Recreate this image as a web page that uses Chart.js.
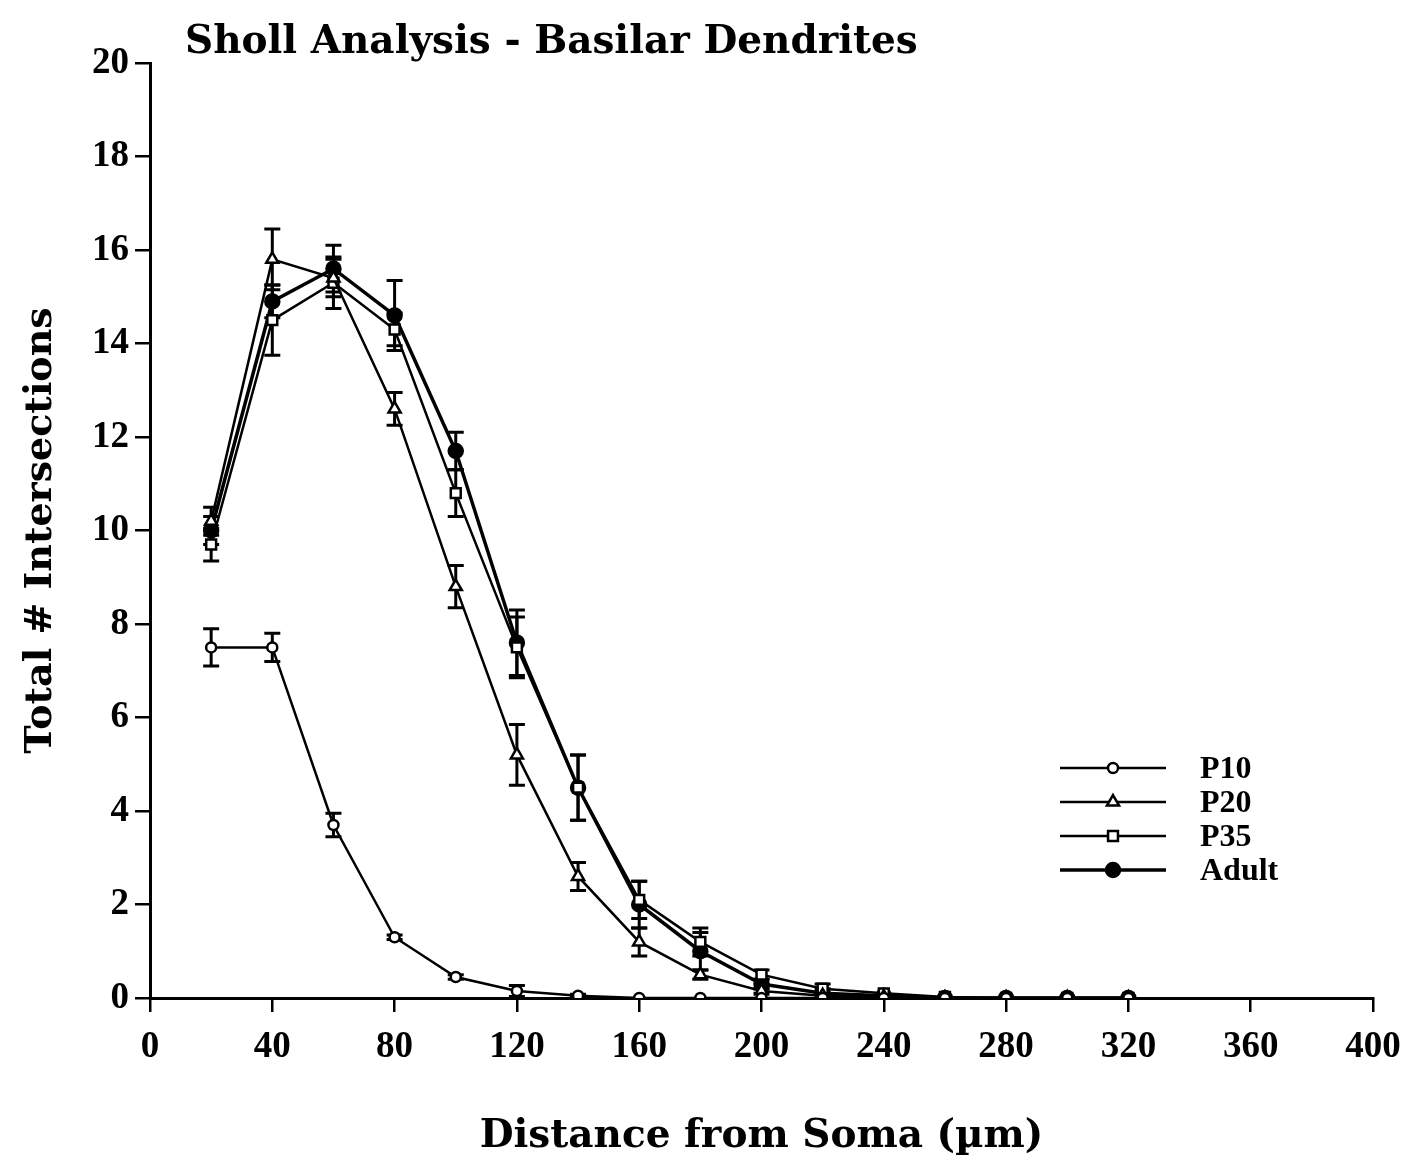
<!DOCTYPE html>
<html>
<head>
<meta charset="utf-8">
<title>Sholl Analysis - Basilar Dendrites</title>
<script src="https://cdn.jsdelivr.net/npm/chart.js@4.4.1/dist/chart.umd.min.js"></script>
<style>
  html, body { margin: 0; padding: 0; background: #fff; }
  #wrap { width: 1408px; height: 1160px; }
</style>
</head>
<body>
<div id="wrap"><canvas id="shollChart" width="1408" height="1160"></canvas></div>
<script>
// distances from soma (um)
const distances = [20, 40, 60, 80, 100, 120, 140, 160, 180, 200, 220, 240, 260, 280, 300, 320];
const xTicks = [0, 40, 80, 120, 160, 200, 240, 280, 320, 360, 400];
const yTicks = [0, 2, 4, 6, 8, 10, 12, 14, 16, 18, 20];

// mean intersections
const p10 = [7.5, 7.5, 3.7, 1.3, 0.45, 0.15, 0.05, 0, 0, 0, 0, 0, 0, 0, 0, 0];
const p20 = [10.2, 15.8, 15.4, 12.6, 8.8, 5.2, 2.6, 1.2, 0.5, 0.15, 0.05, 0.02, 0, 0, 0, 0];
const p35 = [9.7, 14.5, 15.3, 14.3, 10.8, 7.5, 4.5, 2.1, 1.2, 0.5, 0.2, 0.1, 0.02, 0, 0, 0];
const adult = [10.0, 14.9, 15.6, 14.6, 11.7, 7.6, 4.5, 2.0, 1.0, 0.3, 0.1, 0.05, 0, 0, 0, 0];

// SEM
const p10Err = [0.4, 0.3, 0.25, 0.05, 0.05, 0.12, 0.03, 0, 0, 0, 0, 0, 0, 0, 0, 0];
const p20Err = [0.3, 0.65, 0.4, 0.35, 0.45, 0.65, 0.3, 0.3, 0.1, 0.05, 0, 0, 0, 0, 0, 0];
const p35Err = [0.35, 0.75, 0.55, 0.35, 0.5, 0.65, 0.7, 0.4, 0.3, 0.1, 0.1, 0, 0, 0, 0, 0];
const adultErr = [0.3, 0.35, 0.5, 0.75, 0.4, 0.7, 0.7, 0.5, 0.4, 0.1, 0.1, 0, 0, 0, 0, 0];

const wideSerif = "'DejaVu Serif', 'Liberation Serif', serif";
const serif = "'Liberation Serif', 'DejaVu Serif', serif";

function toPoints(values) {
  return distances.map((d, i) => ({ x: d, y: values[i] }));
}

function series(label, values, errs, style, radius, fill, width) {
  return {
    label: label,
    data: toPoints(values),
    errors: errs,
    borderColor: "#000",
    borderWidth: width,
    pointStyle: style,
    pointRadius: radius,
    pointBackgroundColor: fill,
    pointBorderColor: "#000",
    pointBorderWidth: 2.5,
    tension: 0,
  };
}

// vertical error bars, drawn under the markers
const errorBars = {
  id: "errorBars",
  beforeDatasetsDraw(chart) {
    const ctx = chart.ctx;
    const yScale = chart.scales.y;
    ctx.save();
    ctx.strokeStyle = "#000";
    ctx.lineWidth = 3;
    chart.data.datasets.forEach((ds, di) => {
      const meta = chart.getDatasetMeta(di);
      meta.data.forEach((pt, i) => {
        const e = ds.errors[i];
        if (!e) return;
        const v = ds.data[i].y;
        const top = yScale.getPixelForValue(v + e);
        const bot = yScale.getPixelForValue(v - e);
        ctx.beginPath();
        ctx.moveTo(pt.x, top);
        ctx.lineTo(pt.x, bot);
        ctx.moveTo(pt.x - 8, top);
        ctx.lineTo(pt.x + 8, top);
        ctx.moveTo(pt.x - 8, bot);
        ctx.lineTo(pt.x + 8, bot);
        ctx.stroke();
      });
    });
    ctx.restore();
  },
};

// title + line-style legend
const decorations = {
  id: "decorations",
  afterDraw(chart) {
    const ctx = chart.ctx;
    const area = chart.chartArea;
    ctx.save();
    ctx.fillStyle = "#000";
    ctx.font = "bold 39px " + wideSerif;
    ctx.textBaseline = "alphabetic";
    ctx.textAlign = "left";
    ctx.fillText("Sholl Analysis - Basilar Dendrites", area.left + 35, 53);

    ctx.font = "bold 32px " + serif;
    ctx.textBaseline = "middle";
    chart.data.datasets.forEach((ds, i) => {
      const y = 768 + i * 34;
      ctx.strokeStyle = "#000";
      ctx.lineWidth = ds.borderWidth;
      ctx.beginPath();
      ctx.moveTo(1060, y);
      ctx.lineTo(1166, y);
      ctx.stroke();
      ctx.fillStyle = ds.pointBackgroundColor;
      ctx.strokeStyle = "#000";
      ctx.lineWidth = 2.5;
      Chart.helpers.drawPoint(ctx, { pointStyle: ds.pointStyle, radius: ds.pointRadius, borderWidth: 2.5 }, 1113, y);
      ctx.fillStyle = "#000";
      ctx.fillText(ds.label, 1200, y + 2);
    });
    ctx.restore();
  },
};

const ctx = document.getElementById("shollChart").getContext("2d");
new Chart(ctx, {
  type: "line",
  data: {
    datasets: [
      series("P10", p10, p10Err, "circle", 5, "#fff", 2.5),
      series("P20", p20, p20Err, "triangle", 7, "#fff", 2.5),
      series("P35", p35, p35Err, "rect", 7, "#fff", 2.5),
      series("Adult", adult, adultErr, "circle", 7, "#000", 3.5),
    ],
  },
  options: {
    responsive: false,
    animation: false,
    layout: { padding: { top: 63, right: 35, bottom: 0, left: 0 } },
    plugins: {
      legend: { display: false },
      tooltip: { enabled: false },
      title: { display: false },
    },
    scales: {
      x: {
        type: "linear",
        min: 0,
        max: 400,
        afterBuildTicks(scale) { scale.ticks = xTicks.map(v => ({ value: v })); },
        afterFit(scale) { scale.height = 162; scale.paddingLeft = 0; scale.paddingRight = 0; },
        grid: { drawOnChartArea: false, color: "#000", tickLength: 14, lineWidth: 2.5 },
        border: { color: "#000", width: 3 },
        ticks: { color: "#000", font: { family: serif, size: 37, weight: "bold" }, padding: 13, maxRotation: 0 },
        title: {
          display: true,
          text: "Distance from Soma (\u00b5m)",
          color: "#000",
          font: { family: wideSerif, size: 39, weight: "bold" },
          padding: { top: 16, bottom: 0 },
        },
      },
      y: {
        min: 0,
        max: 20,
        afterBuildTicks(scale) { scale.ticks = yTicks.map(v => ({ value: v })); },
        afterFit(scale) { scale.width = 150; scale.paddingTop = 0; scale.paddingBottom = 0; },
        grid: { drawOnChartArea: false, color: "#000", tickLength: 15, lineWidth: 2.5 },
        border: { color: "#000", width: 3 },
        ticks: { color: "#000", font: { family: serif, size: 37, weight: "bold" }, padding: 6 },
        title: {
          display: true,
          text: "Total # Intersections",
          color: "#000",
          font: { family: wideSerif, size: 38, weight: "bold" },
          padding: { top: 18, bottom: 6 },
        },
      },
    },
  },
  plugins: [errorBars, decorations],
});
</script>
</body>
</html>
